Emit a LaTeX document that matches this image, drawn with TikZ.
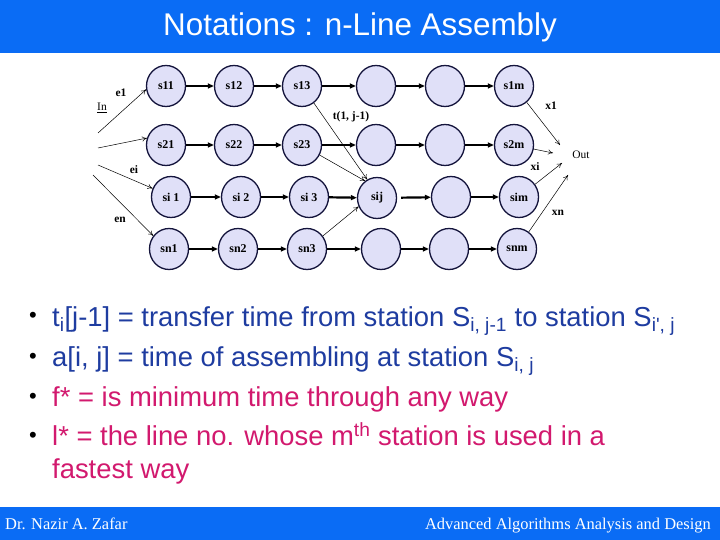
\documentclass[tikz,border=0pt]{standalone}
\usepackage{fontspec}
\setmainfont{Liberation Serif}
\newfontfamily\arialf{Liberation Sans}
\newfontfamily\timesf{Liberation Serif}
\usetikzlibrary{arrows.meta,shapes.geometric}
\definecolor{barblue}{RGB}{10,108,245}
\definecolor{stfill}{RGB}{224,224,248}
\definecolor{stline}{RGB}{20,20,60}
\definecolor{txtblue}{RGB}{30,60,160}
\definecolor{txtmag}{RGB}{210,25,110}
\tikzset{
  st/.style={ellipse,draw=stline,fill=stfill,line width=1.3bp,minimum width=39bp,minimum height=41bp,inner sep=0pt,font=\timesf\bfseries\fontsize{12}{13}\selectfont},
  thick arr/.style={line width=2.2bp,-{Triangle[length=6bp,width=5bp]}},
  thin arr/.style={line width=0.5bp,-{To[length=5bp,width=5bp]}},
  lab/.style={font=\timesf\bfseries\fontsize{11.5}{12}\selectfont,inner sep=0pt},
  labr/.style={font=\timesf\fontsize{11.5}{12}\selectfont,inner sep=0pt},
  bul/.style={font=\arialf\fontsize{22}{24}\selectfont,inner sep=0pt,anchor=base},
  btxt/.style={font=\arialf\fontsize{27.5}{32}\selectfont,inner sep=0pt,anchor=base west}
}
\begin{document}
\begin{tikzpicture}[x=1bp,y=-1bp]
\useasboundingbox (0,0) rectangle (720,540);
\fill[white] (0,0) rectangle (720,540);
% title bar
\fill[barblue] (0,0) rectangle (720,53);
\node[font=\arialf\fontsize{31.5}{34}\selectfont,text=white,inner sep=0pt,anchor=base] (title) at (360,36) {Notations : n-Line Assembly};
% footer bar
\fill[barblue] (0,507) rectangle (720,540);
\node[font=\timesf\fontsize{16.5}{18}\selectfont,text=white,inner sep=0pt,anchor=base west] (auth) at (5,529) {Dr. Nazir A. Zafar};
\node[font=\timesf\fontsize{16.5}{18}\selectfont,text=white,inner sep=0pt,anchor=base east] (course) at (711,529) {Advanced Algorithms Analysis and Design};
% stations row 1
\node[st] (a1) at (166,86) {s11};
\node[st] (a2) at (234,86) {s12};
\node[st] (a3) at (302,86) {s13};
\node[st] (a4) at (376,86) {};
\node[st] (a5) at (445,86) {};
\node[st] (a6) at (514,86) {s1m};
% row 2
\node[st] (b1) at (166,145) {s21};
\node[st] (b2) at (234,145) {s22};
\node[st] (b3) at (302,145) {s23};
\node[st] (b4) at (376,145) {};
\node[st] (b5) at (445,145) {};
\node[st] (b6) at (514,145) {s2m};
% row 3
\node[st] (c1) at (171,197) {si 1};
\node[st] (c2) at (241,197) {si 2};
\node[st] (c3) at (309,197) {si 3};
\node[st] (c4) at (377,198) {sij};
\node[st] (c5) at (451,197) {};
\node[st] (c6) at (519,197) {sim};
% row 4
\node[st] (d1) at (169,249) {sn1};
\node[st] (d2) at (238,249) {sn2};
\node[st] (d3) at (307,249) {sn3};
\node[st] (d4) at (381,249) {};
\node[st] (d5) at (449,249) {};
\node[st] (d6) at (517,249) {snm};
% thick arrows
\foreach \r in {a,b,c,d}{
  \draw[thick arr] (\r1) -- (\r2);
  \draw[thick arr] (\r2) -- (\r3);
  \draw[thick arr] (\r3) -- (\r4);
  \draw[thick arr] (\r5) -- (\r6);
}
\draw[thick arr] (a4) -- (a5);
\draw[thick arr] (b4) -- (b5);
\draw[thick arr,shorten <=4bp] (c4) -- (c5);
\draw[thick arr] (d4) -- (d5);
% entry arrows
\coordinate (in1) at (98,133);
\coordinate (in2) at (98,148);
\coordinate (in3) at (98,165);
\coordinate (in4) at (93,175);
\draw[thin arr] (in1) -- (a1.190);
\draw[thin arr] (in2) -- (b1.160);
\draw[thin arr] (in3) -- (c1.155);
\draw[thin arr] (in4) -- (d1.140);
\node[lab] (le1) at (121,93) {e1};
\node[labr] (lin) at (102,108) {\underline{In}};
\node[lab] (lei) at (134,170) {ei};
\node[lab] (len) at (120,220) {en};
% transfer arrows into sij
\draw[thin arr] (a3) -- (c4.118);
\draw[thin arr] (b3) -- (c4.125);
\draw[thin arr] (d3) -- (c4.205);
\node[lab] (lt) at (351,117) {t(1, j-1)};
% exit arrows
\coordinate (o1) at (560,145);
\coordinate (o2) at (553,153);
\coordinate (o3) at (562,163);
\coordinate (o4) at (568,175);
\draw[thin arr] (a6) -- (o1);
\draw[thin arr] (b6) -- (o2);
\draw[thin arr] (c6) -- (o3);
\draw[thin arr] (d6) -- (o4);
\node[lab] (lx1) at (551,106) {x1};
\node[labr] (lout) at (581,155) {Out};
\node[lab] (lxi) at (535,167) {xi};
\node[lab] (lxn) at (558,213) {xn};
% bullets
\node[bul] (b1m) at (33,322) {•};
\node[bul] (b2m) at (33,363) {•};
\node[bul] (b3m) at (33,403) {•};
\node[bul] (b4m) at (33,442) {•};
\node[btxt,text=txtblue] (t1) at (52,326) {t\textsubscript{i}[j-1] = transfer time from station S\textsubscript{i, j-1} to station S\textsubscript{i', j}};
\node[btxt,text=txtblue] (t2) at (52,366) {a[i, j] = time of assembling at station S\textsubscript{i, j}};
\node[btxt,text=txtmag] (t3) at (52,406) {f* = is minimum time through any way};
\node[btxt,text=txtmag] (t4) at (52,445) {l* = the line no. whose m\textsuperscript{th} station is used in a};
\node[btxt,text=txtmag] (t5) at (52,478) {fastest way};
\end{tikzpicture}
\end{document}
